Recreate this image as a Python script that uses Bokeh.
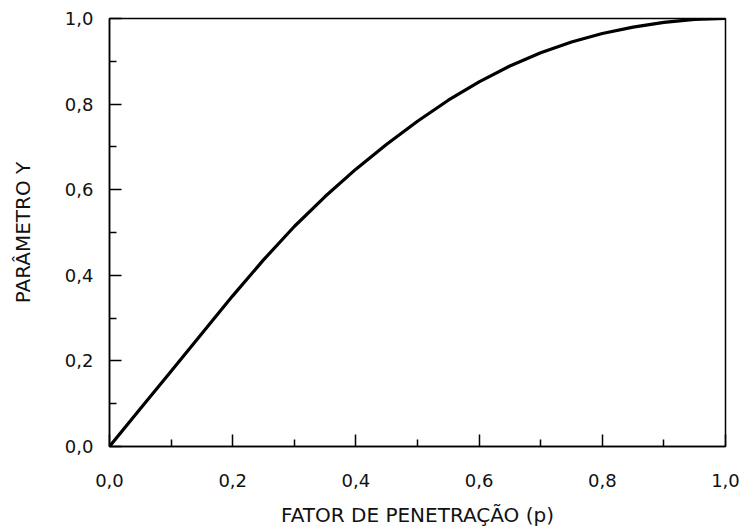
from bokeh.plotting import figure
from bokeh.models import Range1d, FixedTicker
from bokeh.embed import file_html
from bokeh.resources import INLINE

# Data
penetration_factor = [0.00, 0.05, 0.10, 0.15, 0.20, 0.25, 0.30, 0.35, 0.40, 0.45, 0.50,
                      0.55, 0.60, 0.65, 0.70, 0.75, 0.80, 0.85, 0.90, 0.95, 1.00]
parameter_y = [0.000, 0.088, 0.176, 0.264, 0.352, 0.436, 0.514, 0.584, 0.648, 0.706, 0.760,
               0.809, 0.852, 0.889, 0.920, 0.945, 0.965, 0.980, 0.991, 0.998, 1.000]

major_ticks = [0.0, 0.2, 0.4, 0.6, 0.8, 1.0]
minor_ticks = [0.1, 0.3, 0.5, 0.7, 0.9]
tick_labels = ["0,0", "0,2", "0,4", "0,6", "0,8", "1,0"]

x_title = "FATOR DE PENETRAÇÃO (p)"
y_title = "PARÂMETRO Y"

FONT = "DejaVu Sans"

p = figure(width=750, height=529, output_backend="svg", toolbar_location=None,
           x_range=Range1d(0, 1), y_range=Range1d(0, 1),
           min_border_left=109, min_border_right=25, min_border_top=18, min_border_bottom=83)

p.line(penetration_factor, parameter_y, line_color="black", line_width=3.2,
       line_cap="round", line_join="round")

p.grid.visible = False
p.outline_line_color = "black"
p.outline_line_width = 1.5
p.background_fill_color = "white"
p.border_fill_color = "white"

overrides = {t: l for t, l in zip(major_ticks, tick_labels)}

for ax in (p.xaxis[0], p.yaxis[0]):
    ax.ticker = FixedTicker(ticks=major_ticks, minor_ticks=minor_ticks)
    ax.major_label_overrides = overrides
    ax.axis_line_color = "black"
    ax.axis_line_width = 1.5
    ax.major_tick_line_color = "black"
    ax.major_tick_line_width = 1.5
    ax.minor_tick_line_color = "black"
    ax.minor_tick_line_width = 1.5
    ax.major_tick_in = 12
    ax.major_tick_out = 0
    ax.minor_tick_in = 7
    ax.minor_tick_out = 0
    ax.major_label_text_font = FONT
    ax.major_label_text_font_size = "18px"
    ax.major_label_text_color = "#111111"
    ax.axis_label_text_font = FONT
    ax.axis_label_text_font_size = "20px"
    ax.axis_label_text_font_style = "normal"
    ax.axis_label_text_color = "#111111"

p.xaxis[0].axis_label = x_title
p.xaxis[0].major_label_standoff = 27
p.xaxis[0].axis_label_standoff = 13

p.yaxis[0].axis_label = y_title
p.yaxis[0].major_label_standoff = 16
p.yaxis[0].axis_label_standoff = 27

open("out.html", "w").write(file_html(p, INLINE))
